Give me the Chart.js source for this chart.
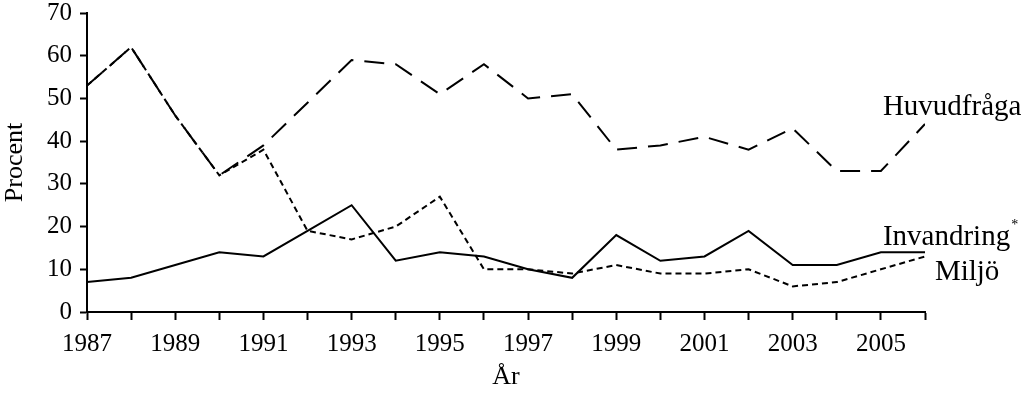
<!DOCTYPE html>
<html><head><meta charset="utf-8">
<script src="https://cdn.jsdelivr.net/npm/chart.js@4/dist/chart.umd.min.js"></script>
<style>html,body{margin:0;padding:0;background:#fff}#w{width:1024px;height:397px}</style>
</head><body><div id="w"><canvas id="c"></canvas></div>
<script>
const years = [1987,1988,1989,1990,1991,1992,1993,1994,1995,1996,1997,1998,1999,2000,2001,2002,2003,2004,2005,2006];
const huvudfraga = [53,62,46,32,39,49,59,58,51,58,50,51,38,39,41,38,43,33,33,44];
const invandring = [7,8,11,14,13,19,25,12,14,13,10,8,18,12,13,19,11,11,14,14];
const miljo = [53,62,46,32,38,19,17,20,27,10,10,9,11,9,9,10,6,7,10,13];
const yTicks = [0,10,20,30,40,50,60,70];
const xLabelYears = [1987,1989,1991,1993,1995,1997,1999,2001,2003,2005];
const seriesLabels = ['Huvudfråga','Invandring','Miljö'];

const FONT = "'Liberation Serif', 'DejaVu Serif', serif";
const pts = arr => arr.map((v,i)=>({x:years[i], y:v}));

const endLabels = {
  id:'endLabels',
  afterDatasetsDraw(chart){
    const {ctx, scales:{x,y}} = chart;
    ctx.save();
    ctx.fillStyle='#000';
    ctx.font = "29px " + FONT;
    ctx.textBaseline='alphabetic';
    ctx.textAlign='left';
    const x0 = x.getPixelForValue(2005);
    ctx.fillText(seriesLabels[0], x0+2, y.getPixelForValue(46.1));
    ctx.fillText(seriesLabels[1], x0+2, y.getPixelForValue(15.7));
    const w = ctx.measureText(seriesLabels[1]).width;
    ctx.font = "14px " + FONT;
    ctx.fillText('*', x0+3+w, y.getPixelForValue(19.5));
    ctx.font = "29px " + FONT;
    ctx.fillText(seriesLabels[2], x0+54, y.getPixelForValue(7.5));
    ctx.restore();
  }
};

new Chart(document.getElementById('c'), {
  type:'line',
  data:{datasets:[
    {label:seriesLabels[0], data:pts(huvudfraga), borderColor:'#000', borderWidth:2, borderDash:[20,11], pointRadius:0, tension:0},
    {label:seriesLabels[1], data:pts(invandring), borderColor:'#000', borderWidth:2, pointRadius:0, tension:0},
    {label:seriesLabels[2], data:pts(miljo), borderColor:'#000', borderWidth:2, borderDash:[6,4], pointRadius:0, tension:0}
  ]},
  options:{
    responsive:true, maintainAspectRatio:false, animation:false,
    layout:{padding:{left:0, right:99, top:0, bottom:0}},
    plugins:{legend:{display:false}, tooltip:{enabled:false}},
    scales:{
      x:{type:'linear', min:1987, max:2006,
        afterBuildTicks(s){ s.ticks = years.map(v=>({value:v})); },
        afterFit(s){ s.height = 85; },
        ticks:{autoSkip:false, maxRotation:0, color:'#000', font:{family:FONT, size:25, lineHeight:1.1}, padding:11,
          callback:(v)=> xLabelYears.includes(v) ? String(v) : ''},
        grid:{drawOnChartArea:false, color:'#000', tickLength:8, tickWidth:2},
        border:{color:'#000', width:2},
        title:{display:true, text:'År', color:'#000', font:{family:FONT, size:26}, padding:{top:4, bottom:4}}
      },
      y:{min:0, max:70,
        afterBuildTicks(s){ s.ticks = yTicks.map(v=>({value:v})); },
        afterFit(s){ s.width = 87; s.paddingTop = 13; s.paddingBottom = 0; },
        ticks:{color:'#000', font:{family:FONT, size:25, lineHeight:1}, padding:8},
        grid:{drawOnChartArea:false, color:'#000', tickLength:7, tickWidth:2},
        border:{color:'#000', width:2},
        title:{display:true, text:'Procent', color:'#000', font:{family:FONT, size:26}, padding:{top:0, bottom:4}}
      }
    }
  },
  plugins:[endLabels]
});
</script></body></html>
